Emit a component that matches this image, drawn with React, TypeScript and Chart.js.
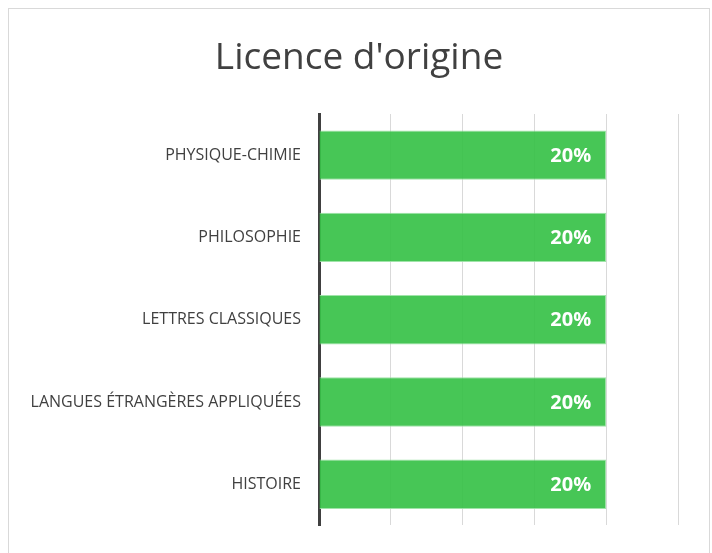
import React, { useEffect, useRef } from "react";
import { Chart, registerables } from "chart.js";

Chart.register(...registerables);

const title = "Licence d'origine";
const categories = [
  "PHYSIQUE-CHIMIE",
  "PHILOSOPHIE",
  "LETTRES CLASSIQUES",
  "LANGUES ÉTRANGÈRES APPLIQUÉES",
  "HISTOIRE",
];
const values = [0.2, 0.2, 0.2, 0.2, 0.2];
const axisMin = 0;
const axisMax = 0.25;
const axisStep = 0.05;

const FONT = "'Open Sans', 'Liberation Sans', sans-serif";

const labelPlugin = {
  id: "barLabels",
  afterDatasetsDraw(chart: any) {
    const ctx = chart.ctx;
    const meta = chart.getDatasetMeta(0);
    ctx.save();
    ctx.fillStyle = "#ffffff";
    ctx.font = `bold 20px ${FONT}`;
    ctx.textAlign = "right";
    ctx.textBaseline = "middle";
    meta.data.forEach((bar: any, i: number) => {
      const v = values[i];
      ctx.fillText(`${Math.round(v * 100)}%`, bar.x - 15, bar.y + 1);
    });
    ctx.restore();
  },
};

const titlePlugin = {
  id: "centeredTitle",
  afterDraw(chart: any) {
    const ctx = chart.ctx;
    ctx.save();
    ctx.fillStyle = "#404040";
    ctx.font = `normal 37px ${FONT}`;
    ctx.textAlign = "center";
    ctx.textBaseline = "middle";
    ctx.fillText(title, chart.width / 2, 49);
    ctx.restore();
  },
};

export default function App() {
  const ref = useRef<HTMLCanvasElement | null>(null);
  useEffect(() => {
    if (!ref.current) return;
    const chart = new Chart(ref.current, {
      type: "bar",
      data: {
        labels: categories,
        datasets: [
          {
            data: values,
            backgroundColor: "rgba(55,193,72,0.92)",
            borderColor: "rgba(150,225,160,0.9)",
            borderWidth: 1,
            barPercentage: 0.6,
            categoryPercentage: 1,
          },
        ],
      },
      options: {
        indexAxis: "y",
        animation: false,
        responsive: true,
        maintainAspectRatio: false,
        layout: { padding: { left: 0, right: 31, top: 105, bottom: 26 } },
        plugins: {
          legend: { display: false },
          tooltip: { enabled: false },
          title: { display: false },
        },
        scales: {
          x: {
            min: axisMin,
            max: axisMax,
            ticks: { display: false, stepSize: axisStep },
            grid: { color: "#d9d9d9", lineWidth: 1, drawTicks: false },
            border: { display: false },
          },
          y: {
            grid: { display: false, drawTicks: false },
            border: { display: true, color: "#404040", width: 3 },
            ticks: {
              color: "#404040",
              font: { family: FONT, size: 16 },
              padding: 18,
            },
            afterFit(scale: any) {
              scale.width = 310;
            },
          },
        },
      },
      plugins: [labelPlugin, titlePlugin],
    });
    return () => chart.destroy();
  }, []);
  return (
    <div
      style={{
        position: "fixed",
        left: 8,
        top: 8,
        width: 702,
        height: 560,
        border: "1px solid #d9d9d9",
        boxSizing: "border-box",
        background: "#fff",
      }}
    >
      <div style={{ position: "absolute", left: 0, top: 0, width: 700, height: 544 }}>
        <canvas ref={ref} />
      </div>
    </div>
  );
}
